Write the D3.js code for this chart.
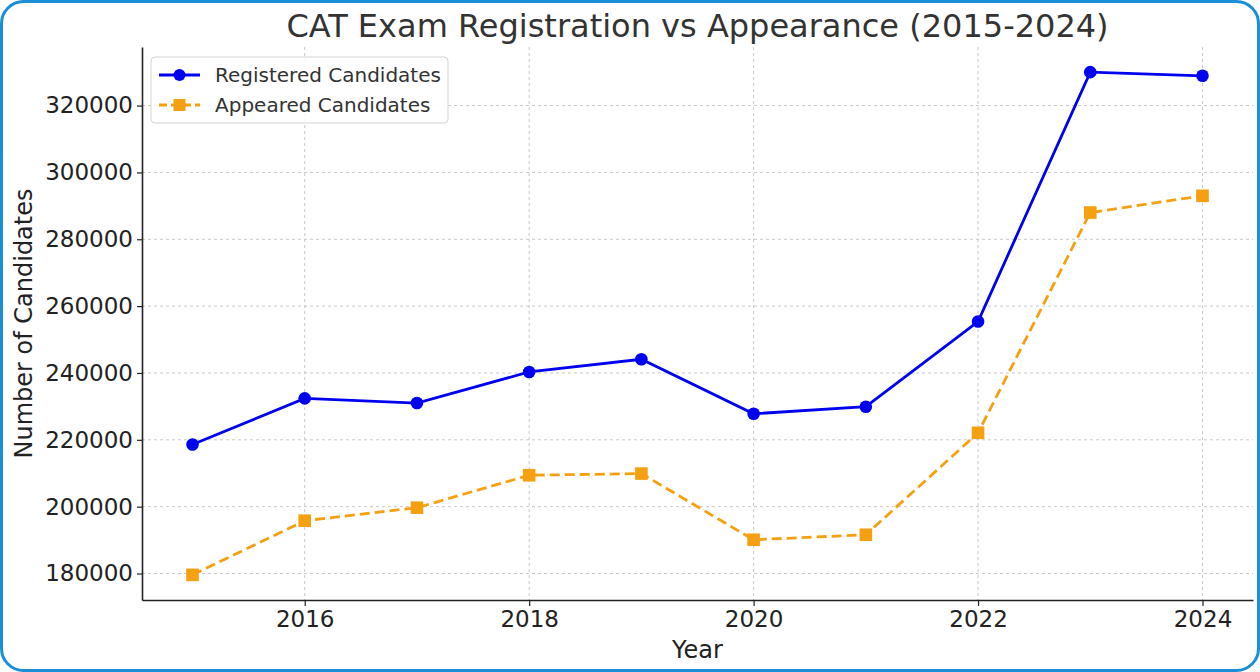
<!DOCTYPE html>
<html><head><meta charset="utf-8">
<script src="https://cdn.jsdelivr.net/npm/d3@7"></script>
<style>html,body{margin:0;padding:0;background:#fff;}svg{display:block;}</style>
</head><body><svg id="c" width="1260" height="672"></svg>
<script>
const years = [2015,2016,2017,2018,2019,2020,2021,2022,2023,2024];
const registered = [218600,232400,231000,240300,244100,227800,229900,255400,330000,328900];
const appeared = [179600,195800,199700,209400,209900,190100,191600,222100,288000,293000];
const yTicks = [180000,200000,220000,240000,260000,280000,300000,320000];
const xTicks = [2016,2018,2020,2022,2024];
const seriesNames = ["Registered Candidates","Appeared Candidates"];

const svg = d3.select("#c");
const font = "DejaVu Sans, sans-serif";
// outer frame
svg.append("rect").attr("x",1.5).attr("y",1.5).attr("width",1257).attr("height",669)
  .attr("rx",22).attr("fill","#fff").attr("stroke","#1a8fd8").attr("stroke-width",3);

const L=142,R=1253,T=47,B=600;
const allV = registered.concat(appeared);
const vmin=d3.min(allV), vmax=d3.max(allV), pad=(vmax-vmin)*0.05;
const x = d3.scaleLinear().domain([2015-0.45,2024+0.45]).range([L,R]);
const y = d3.scaleLinear().domain([vmin-pad,vmax+pad]).range([B,T]);

// grid
const g = svg.append("g");
g.selectAll(".gy").data(yTicks).join("line").attr("x1",L).attr("x2",R)
  .attr("y1",d=>y(d)).attr("y2",d=>y(d)).attr("stroke","#c8c8c8").attr("stroke-width",1).attr("stroke-dasharray","3,3");
g.selectAll(".gx").data(xTicks).join("line").attr("y1",T).attr("y2",B)
  .attr("x1",d=>x(d)).attr("x2",d=>x(d)).attr("stroke","#c8c8c8").attr("stroke-width",1).attr("stroke-dasharray","3,3");

// axes
const ax = svg.append("g").attr("transform",`translate(0,${B})`)
  .call(d3.axisBottom(x).tickValues(xTicks).tickFormat(d3.format("d")).tickSize(6).tickPadding(5).tickSizeOuter(0));
const ay = svg.append("g").attr("transform",`translate(${L},0)`)
  .call(d3.axisLeft(y).tickValues(yTicks).tickFormat(d3.format("d")).tickSize(5).tickPadding(4).tickSizeOuter(0));
[ax,ay].forEach(a=>{
  a.select(".domain").attr("stroke","#222").attr("stroke-width",1.6);
  a.selectAll(".tick line").attr("stroke","#222").attr("stroke-width",1.2);
  a.selectAll(".tick text").attr("font-family",font).attr("font-size",23).attr("fill","#222");
});

// lines
const line = d3.line().x((d,i)=>x(years[i])).y(d=>y(d));
svg.append("path").datum(registered).attr("d",line).attr("fill","none").attr("stroke","#0000f0").attr("stroke-width",2.8);
svg.append("path").datum(appeared).attr("d",line).attr("fill","none").attr("stroke","#f5a010").attr("stroke-width",2.8).attr("stroke-dasharray","10,5");
svg.selectAll(".m1").data(registered).join("circle").attr("cx",(d,i)=>x(years[i])).attr("cy",d=>y(d)).attr("r",6.3).attr("fill","#0000f0");
svg.selectAll(".m2").data(appeared).join("rect").attr("x",(d,i)=>x(years[i])-6.3).attr("y",d=>y(d)-6.3).attr("width",12.6).attr("height",12.6).attr("fill","#f5a010");

// title & labels
svg.append("text").attr("x",(L+R)/2).attr("y",37).attr("text-anchor","middle").attr("font-family",font).attr("font-size",32).attr("fill","#333").text("CAT Exam Registration vs Appearance (2015-2024)");
svg.append("text").attr("x",(L+R)/2).attr("y",658).attr("text-anchor","middle").attr("font-family",font).attr("font-size",24).attr("fill","#222").text("Year");
svg.append("text").attr("transform",`translate(32,${(T+B)/2}) rotate(-90)`).attr("text-anchor","middle").attr("font-family",font).attr("font-size",24).attr("fill","#222").text("Number of Candidates");

// legend
const lg = svg.append("g");
lg.append("rect").attr("x",151).attr("y",57).attr("width",297).attr("height",66).attr("rx",4)
  .attr("fill","#fff").attr("fill-opacity",0.85).attr("stroke","#d5d5d5").attr("stroke-width",1);
const colors=["#0000f0","#f5a010"];
seriesNames.forEach((n,i)=>{
  const cy = 75 + i*30;
  lg.append("line").attr("x1",159).attr("x2",200).attr("y1",cy).attr("y2",cy).attr("stroke",colors[i]).attr("stroke-width",2.8).attr("stroke-dasharray",i?"8,4":null);
  if(i===0) lg.append("circle").attr("cx",179.5).attr("cy",cy).attr("r",6).attr("fill",colors[i]);
  else lg.append("rect").attr("x",173.5).attr("y",cy-6).attr("width",12).attr("height",12).attr("fill",colors[i]);
  lg.append("text").attr("x",215).attr("y",cy+7).attr("font-family",font).attr("font-size",20).attr("fill","#333").text(n);
});
</script></body></html>
